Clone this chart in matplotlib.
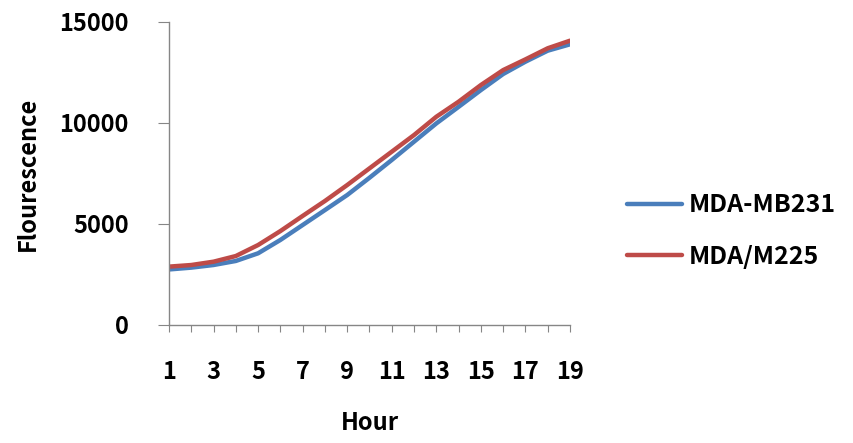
import matplotlib
matplotlib.use("Agg")
import matplotlib.pyplot as plt

hours = list(range(1, 20))
mda_mb231 = [2750, 2840, 2970, 3170, 3550, 4210, 4950, 5690, 6435, 7290,
             8170, 9075, 9980, 10800, 11630, 12425, 13035, 13580, 13895]
mda_m225 = [2890, 2970, 3135, 3415, 3960, 4650, 5400, 6140, 6930, 7755,
            8580, 9405, 10310, 11055, 11880, 12620, 13150, 13700, 14075]
yticks = [0, 5000, 10000, 15000]
xlabels = [str(h) if h % 2 == 1 else "" for h in hours]

plt.rcParams['font.family'] = ['Noto Sans CJK KR', 'DejaVu Sans']
grey = "#868686"

fig = plt.figure(figsize=(8.54, 4.43), dpi=100)
ax = fig.add_axes([169/854, 1 - 325/443, (570 - 169)/854, (325 - 22)/443])
ax.plot(hours, mda_mb231, color="#4A7EBB", lw=3.2, label="MDA-MB231", solid_capstyle="round")
ax.plot(hours, mda_m225, color="#BE4B48", lw=3.2, label="MDA/M225", solid_capstyle="round")

ax.set_xlim(1, 19)
ax.set_ylim(0, 15000)
ax.set_yticks(yticks)
ax.set_yticklabels([str(v) for v in yticks], fontsize=17, fontweight="bold")
ax.set_xticks(hours)
ax.set_xticklabels(xlabels, fontsize=17, fontweight="bold")
for s in ["top", "right"]:
    ax.spines[s].set_visible(False)
for s in ["left", "bottom"]:
    ax.spines[s].set_color(grey)
    ax.spines[s].set_linewidth(1.0)
ax.tick_params(axis="y", direction="out", length=8, color=grey, pad=21)
ax.tick_params(axis="x", direction="out", length=5, color=grey, pad=20)

ax.set_xlabel("Hour", fontsize=17, fontweight="bold", labelpad=20)
ax.set_ylabel("Flourescence", fontsize=17, fontweight="bold", labelpad=14)

ax.legend(loc="center left", bbox_to_anchor=(1.085, 0.31), frameon=False,
          prop={"size": 18, "weight": "bold"}, handlelength=2.2,
          handletextpad=0.3, labelspacing=1.1)

fig.savefig("out.png", dpi=100)
